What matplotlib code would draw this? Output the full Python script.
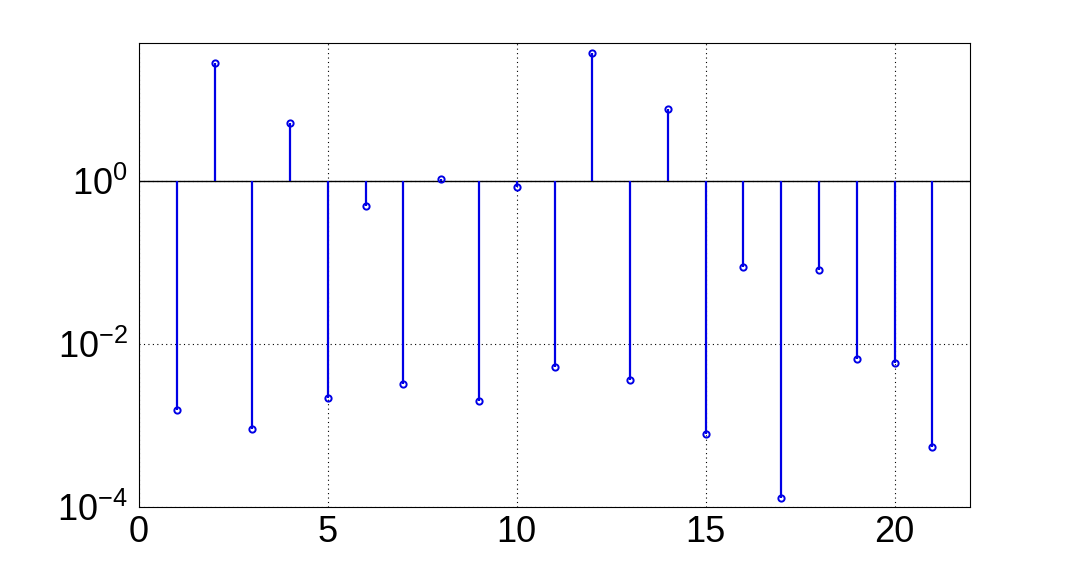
import matplotlib.pyplot as plt
import numpy as np

plt.rcParams['font.family'] = ['Liberation Sans', 'DejaVu Sans']
plt.rcParams['mathtext.fontset'] = 'custom'
plt.rcParams['mathtext.rm'] = 'Liberation Sans'

n = np.arange(1, 22)
values = [1.55e-3, 28, 9.1e-4, 5.1, 2.2e-3, 0.49, 3.2e-3, 1.06, 2.0e-3, 0.84,
          5.2e-3, 37, 3.6e-3, 7.6, 7.9e-4, 0.088, 1.3e-4, 0.081, 6.6e-3, 5.9e-3,
          5.5e-4]

fig = plt.figure(figsize=(10.72, 5.70), dpi=100)
ax = fig.add_axes([0.1297, 0.1105, 0.7752, 0.814])

ax.set_yscale('log')
ax.vlines(n, 1, values, color='#0000e6', lw=1.6, zorder=3)
ax.plot(n, values, 'o', mfc='none', mec='#0000e6', ms=4.5, mew=1.4, zorder=4)
ax.axhline(1, color='black', lw=1, zorder=2)

ax.set_xlim(0, 22)
ax.set_ylim(1e-4, 10**1.69)
ax.set_xticks([0, 5, 10, 15, 20])
ax.set_yticks([1e-4, 1e-2, 1e0])
ax.set_yticklabels(['$10^{-4}$', '$10^{-2}$', '$10^{0}$'])
ax.yaxis.set_minor_locator(plt.NullLocator())
ax.grid(True, which='major', ls=(0, (1, 3)), color='black', lw=0.8)
ax.tick_params(direction='in', length=0, labelsize=26)
ax.tick_params(axis='x', pad=6)
ax.tick_params(axis='y', pad=8)
for s in ax.spines.values():
    s.set_linewidth(0.8)

fig.savefig('out.png', dpi=100)
